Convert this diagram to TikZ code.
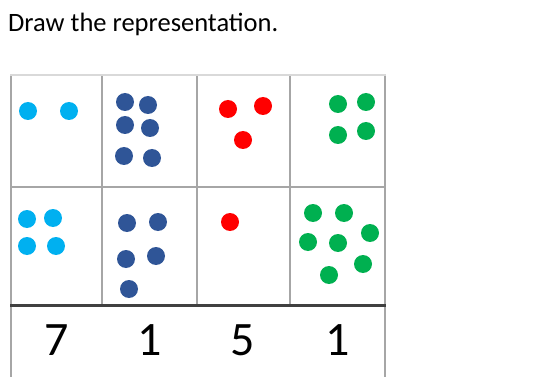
\documentclass[tikz,border=0pt]{standalone}
\usepackage{fontspec}
\setmainfont{Carlito}
\definecolor{lblue}{HTML}{00B0F0}
\definecolor{dblue}{HTML}{2F5597}
\definecolor{dred}{HTML}{FF0000}
\definecolor{dgreen}{HTML}{00B050}
\definecolor{gridgray}{HTML}{A6A6A6}
\definecolor{topgray}{HTML}{D9D9D9}
\definecolor{thickgray}{HTML}{404040}
\begin{document}
\begin{tikzpicture}[x=1pt,y=-1pt,
  grid/.style={draw=gridgray,line width=1.5pt},
  digit/.style={font=\fontsize{48}{48}\selectfont,anchor=base,inner sep=0pt}]
\useasboundingbox (0,0) rectangle (541,377);
\node[anchor=base west,inner sep=0pt,font=\fontsize{26.5}{30}\selectfont] (title) at (8,31.5) {Draw the representation.};
% grid
\draw[grid] (11,75) -- (11,377);
\draw[grid] (385,75) -- (385,377);
\draw[grid] (102,75) -- (102,305);
\draw[grid] (197,75) -- (197,305);
\draw[grid] (290,75) -- (290,305);
\draw[grid] (11,187) -- (385,187);
\draw[draw=topgray,line width=2.5pt] (10,75) -- (386,75);
\draw[draw=thickgray,line width=3pt] (10,305) -- (386,305);
% dots top row
\foreach \p in {(28,111),(69,111)} \fill[lblue] \p circle (9);
\foreach \p in {(125,102),(148,105),(125,125),(150,128),(124,156),(152,158)} \fill[dblue] \p circle (9);
\foreach \p in {(228,109),(263,106),(243,140)} \fill[dred] \p circle (9);
\foreach \p in {(338,104),(366,102),(338,135),(366,131)} \fill[dgreen] \p circle (9);
% dots bottom row
\foreach \p in {(27,219),(53,218),(27,246),(56,246)} \fill[lblue] \p circle (9);
\foreach \p in {(127,223),(158,222),(126,259),(156,256),(129,289)} \fill[dblue] \p circle (9);
\foreach \p in {(230,222)} \fill[dred] \p circle (9);
\foreach \p in {(313,213),(344,213),(370,233),(308,242),(338,243),(363,264),(329,275)} \fill[dgreen] \p circle (9);
% digits
\node[digit] (d1) at (57,355) {7};
\node[digit] (d2) at (150,355) {1};
\node[digit] (d3) at (243,355) {5};
\node[digit] (d4) at (338,355) {1};
\end{tikzpicture}
\end{document}
